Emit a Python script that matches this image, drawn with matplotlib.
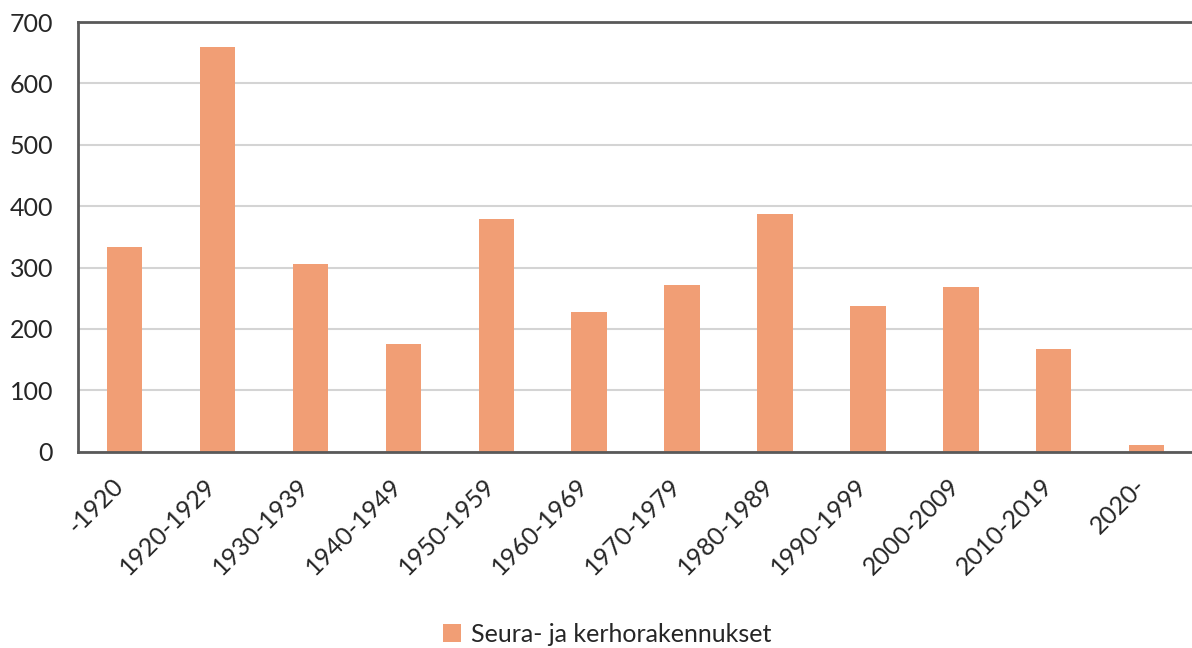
import matplotlib
matplotlib.use("Agg")
import matplotlib.pyplot as plt
import matplotlib.transforms as mtransforms
import numpy as np

categories = ["-1920", "1920-1929", "1930-1939", "1940-1949", "1950-1959", "1960-1969",
              "1970-1979", "1980-1989", "1990-1999", "2000-2009", "2010-2019", "2020-"]
values = [333, 660, 305, 175, 379, 228, 271, 388, 237, 268, 168, 11]
series_name = "Seura- ja kerhorakennukset"
yticks = [0, 100, 200, 300, 400, 500, 600, 700]

plt.rcParams['font.family'] = ['Lato', 'DejaVu Sans']
text_color = '#262626'
bar_color = '#F19E75'

fig = plt.figure(figsize=(11.92, 6.48), dpi=100)
ax = fig.add_axes([78/1192, 1 - 451.7/648, 1 - 78/1192 + 0.001, (451.7 - 22)/648])

x = np.arange(len(categories))
ax.bar(x, values, width=0.38, color=bar_color, zorder=3, label=series_name)

ax.set_xlim(-0.5, len(categories) - 0.5)
ax.set_ylim(0, 700)
ax.set_yticks(yticks)
ax.set_yticklabels([str(t) for t in yticks])
ax.grid(axis='y', color='#D4D4D4', linewidth=1.5, zorder=0)
ax.set_axisbelow(True)

for side in ['left', 'bottom', 'top']:
    ax.spines[side].set_color('#595959')
    ax.spines[side].set_linewidth(2)
    ax.spines[side].set_zorder(4)
ax.spines['right'].set_visible(False)

ax.tick_params(axis='y', length=0, pad=18, labelsize=18, labelcolor=text_color)
ax.tick_params(axis='x', length=0, pad=22, labelsize=18, labelcolor=text_color)
ax.set_xticks(x)
ax.set_xticklabels(categories, rotation=45, ha='right', va='center', rotation_mode='anchor')
offset = mtransforms.ScaledTranslation(-5/100, 0, fig.dpi_scale_trans)
for lbl in ax.get_xticklabels():
    lbl.set_transform(lbl.get_transform() + offset)

fig.legend(loc='center', bbox_to_anchor=(607/1192, 1 - 634/648), frameon=False,
           fontsize=18, handlelength=0.7, handleheight=0.7, handletextpad=0.4,
           labelcolor=text_color)

fig.savefig("out.png", dpi=100, facecolor='white')
